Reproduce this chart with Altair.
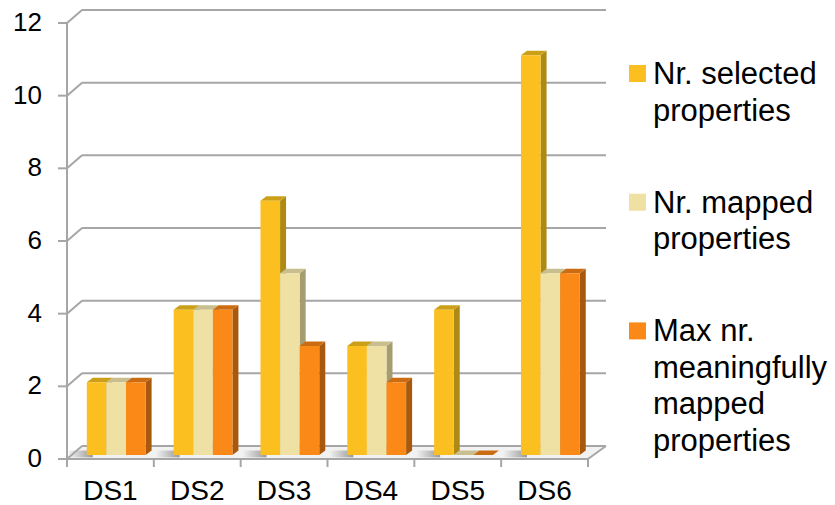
import altair as alt
import pandas as pd

# ---- data -------------------------------------------------------------
CATEGORIES = ["DS1", "DS2", "DS3", "DS4", "DS5", "DS6"]
SERIES = [
    "Nr. selected properties",
    "Nr. mapped properties",
    "Max nr. meaningfully mapped properties",
]
LEGEND_LINES = [
    "Nr. selected\nproperties",
    "Nr. mapped\nproperties",
    "Max nr.\nmeaningfully\nmapped\nproperties",
]
selected = [2, 4, 7, 3, 4, 11]
mapped = [2, 4, 5, 3, 0, 5]
meaningful = [2, 4, 3, 2, 0, 5]
Y_TICKS = [0, 2, 4, 6, 8, 10, 12]

VALUES = [selected, mapped, meaningful]

# ---- style -------------------------------------------------------------
FRONT = ["#FBC01F", "#EFE0A3", "#FB8918"]
SIDE = ["#AE8914", "#A59C6F", "#A8590E"]
TOP = ["#CBA018", "#C9BE8E", "#CC6C12"]
GRID = "#A6A6A6"
FONT = "Liberation Sans"

W, H = 521, 436            # plot area in pixels
Y_MAX = 12
PX_X = W / len(CATEGORIES)  # pixels per category unit
PX_Y = H / Y_MAX            # pixels per value unit

WALL_DX = 15 / PX_X         # depth of the back wall
WALL_DX_R = 18 / PX_X
WALL_DY = 13 / PX_Y
BAR_DX = 6 / PX_X           # depth of each bar
BAR_DY = 4.5 / PX_Y
BASE = 4 / PX_Y             # bars stand slightly behind the front edge
GROUP_PAD = 19.8 / PX_X
BAR_W = 19.6 / PX_X
SHADOW_W = 18 / PX_X

# ---- geometry built from the values ---------------------------------------
front_rows, side_rows, top_rows, shadow_rows = [], [], [], []
for j, series in enumerate(SERIES):
    for i, cat in enumerate(CATEGORIES):
        v = VALUES[j][i]
        xl = i + GROUP_PAD + j * BAR_W
        xr = xl + BAR_W
        top = BASE + v
        bar = f"b{j}{i}"
        front_rows.append(dict(s=j, cat=cat, value=v, xl=xl, xr=xr, lo=BASE, hi=top))
        side_rows += [
            dict(s=j, bar=bar, px=xr, hi=top, lo=BASE),
            dict(s=j, bar=bar, px=xr + BAR_DX, hi=top + BAR_DY, lo=BASE + BAR_DY),
        ]
        top_rows += [
            dict(s=j, bar=bar, px=xl, hi=top, lo=top),
            dict(s=j, bar=bar, px=xl + BAR_DX, hi=top + BAR_DY, lo=top),
            dict(s=j, bar=bar, px=xr, hi=top + BAR_DY, lo=top),
            dict(s=j, bar=bar, px=xr + BAR_DX, hi=top + BAR_DY, lo=top + BAR_DY),
        ]

# soft floor shadow to the left of each group
for i, cat in enumerate(CATEGORIES):
    gl = i + GROUP_PAD
    shadow_rows += [
        dict(cat=cat, px=gl - SHADOW_W, hi=BASE + BAR_DY, lo=BASE * 0.4),
        dict(cat=cat, px=gl + BAR_DX, hi=BASE + BAR_DY, lo=BASE * 0.4),
    ]

front_df = pd.DataFrame(front_rows)
side_df = pd.DataFrame(side_rows)
top_df = pd.DataFrame(top_rows)
shadow_df = pd.DataFrame(shadow_rows)

n = len(CATEGORIES)
x_scale = alt.Scale(domain=[0, n], nice=False, zero=False)
y_scale = alt.Scale(domain=[0, Y_MAX], nice=False, zero=False)


def X(field):
    return alt.X(field, scale=x_scale, axis=None)


def Y(field):
    return alt.Y(field, scale=y_scale, axis=None)


# ---- back wall, floor ------------------------------------------------------
grid_df = pd.DataFrame({"v": Y_TICKS})
grid_df["y"] = grid_df["v"] + WALL_DY
grid_df["x0"] = WALL_DX
grid_df["x1"] = n + WALL_DX_R
grid_df["xf"] = 0.0

back_lines = alt.Chart(grid_df).mark_rule(color=GRID, strokeWidth=2).encode(
    x=X("x0:Q"), x2="x1:Q", y=Y("y:Q")
)
diagonals = alt.Chart(grid_df).mark_rule(color=GRID, strokeWidth=2).encode(
    x=X("xf:Q"), x2="x0:Q", y=Y("v:Q"), y2="y:Q"
)

floor_df = pd.DataFrame(
    {
        "px": [0, WALL_DX, n, n + WALL_DX_R],
        "hi": [0, WALL_DY, WALL_DY, WALL_DY],
        "lo": [0, 0, 0, WALL_DY],
    }
)
floor = alt.Chart(floor_df).mark_area(color="#F2F2F2", orient="vertical").encode(
    x=X("px:Q"), y=Y("hi:Q"), y2="lo:Q"
)
shadows = alt.Chart(shadow_df).mark_area(
    orient="vertical",
    color=alt.Gradient(
        gradient="linear",
        stops=[
            alt.GradientStop(color="#F2F2F2", offset=0),
            alt.GradientStop(color="#9A9A9A", offset=1),
        ],
        x1=0, x2=1, y1=0, y2=0,
    ),
).encode(x=X("px:Q"), y=Y("hi:Q"), y2="lo:Q", detail="cat:N")

right_edge_df = pd.DataFrame({"x0": [n], "x1": [n + WALL_DX_R], "y0": [0], "y1": [WALL_DY]})
right_edge = alt.Chart(right_edge_df).mark_rule(color=GRID, strokeWidth=2).encode(
    x=X("x0:Q"), x2="x1:Q", y=Y("y0:Q"), y2="y1:Q"
)

# ---- front axes: lines, ticks and labels ----------------------------------
frame_df = pd.DataFrame({"x0": [0.0], "x1": [float(n)], "y0": [0.0], "y1": [float(Y_MAX)]})
y_axis_line = alt.Chart(frame_df).mark_rule(color=GRID, strokeWidth=2).encode(
    x=X("x0:Q"), y=Y("y0:Q"), y2="y1:Q"
)
x_axis_line = alt.Chart(frame_df).mark_rule(color=GRID, strokeWidth=2).encode(
    x=X("x0:Q"), x2="x1:Q", y=Y("y0:Q")
)
y_ticks = alt.Chart(grid_df).mark_rule(color=GRID, strokeWidth=2).encode(
    x=alt.value(-9), x2=alt.value(0), y=Y("v:Q")
)
y_labels = alt.Chart(grid_df).mark_text(
    align="right", baseline="middle", font=FONT, fontSize=26, color="#000000"
).encode(x=alt.value(-25), y=Y("v:Q"), text="v:Q")

tick_df = pd.DataFrame({"t": list(range(n + 1))})
x_ticks = alt.Chart(tick_df).mark_rule(color=GRID, strokeWidth=2).encode(
    x=X("t:Q"), y=alt.value(H), y2=alt.value(H + 8)
)
cat_df = pd.DataFrame({"cat": CATEGORIES, "c": [i + 0.5 for i in range(n)]})
x_labels = alt.Chart(cat_df).mark_text(
    align="center", baseline="alphabetic", font=FONT, fontSize=28, color="#000000"
).encode(x=X("c:Q"), y=alt.value(H + 41), text="cat:N")

# ---- bars: sides, tops, then front faces ----------------------------------
side_layers, top_layers, front_layers = [], [], []
for j, series in enumerate(SERIES):
    side_layers.append(
        alt.Chart(side_df[side_df.s == j]).mark_area(color=SIDE[j], orient="vertical").encode(
            x=X("px:Q"), y=Y("hi:Q"), y2="lo:Q", detail="bar:N"
        )
    )
    top_layers.append(
        alt.Chart(top_df[top_df.s == j]).mark_area(color=TOP[j], orient="vertical").encode(
            x=X("px:Q"), y=Y("hi:Q"), y2="lo:Q", detail="bar:N"
        )
    )
    front_layers.append(
        alt.Chart(front_df[front_df.s == j]).mark_rect(color=FRONT[j]).encode(
            x=X("xl:Q"), x2="xr:Q", y=Y("lo:Q"), y2="hi:Q"
        )
    )

# ---- legend ----------------------------------------------------------------
LEG_SYMBOL_X = 570.5
LEG_TEXT_X = 586
LEG_SYMBOL_Y = 50.5
LEG_TEXT_Y = 61
LEG_STEP = 128.7

legend_layers = []
for j, lines in enumerate(LEGEND_LINES):
    legend_layers.append(
        alt.Chart(pd.DataFrame({"label": [lines]})).mark_square(
            size=289, color=FRONT[j], opacity=1, filled=True
        ).encode(x=alt.value(LEG_SYMBOL_X), y=alt.value(LEG_SYMBOL_Y + j * LEG_STEP))
    )
    legend_layers.append(
        alt.Chart(pd.DataFrame({"label": [lines]})).mark_text(
            align="left",
            baseline="alphabetic",
            lineBreak="\n",
            lineHeight=36.5,
            font=FONT,
            fontSize=31,
            color="#000000",
        ).encode(
            x=alt.value(LEG_TEXT_X),
            y=alt.value(LEG_TEXT_Y + j * LEG_STEP),
            text="label:N",
        )
    )

chart = alt.layer(
    floor,
    shadows,
    back_lines,
    diagonals,
    right_edge,
    y_axis_line,
    x_axis_line,
    y_ticks,
    y_labels,
    x_ticks,
    x_labels,
    *side_layers,
    *top_layers,
    *front_layers,
    *legend_layers,
).properties(
    width=W,
    height=H,
    background="#FFFFFF",
    autosize=alt.AutoSizeParams(type="none"),
    padding={"left": 67, "top": 23, "right": 835 - 67 - W, "bottom": 505 - 23 - H},
).configure_view(stroke=None)

chart.save("out.html", embed_options={"renderer": "svg", "actions": False})
